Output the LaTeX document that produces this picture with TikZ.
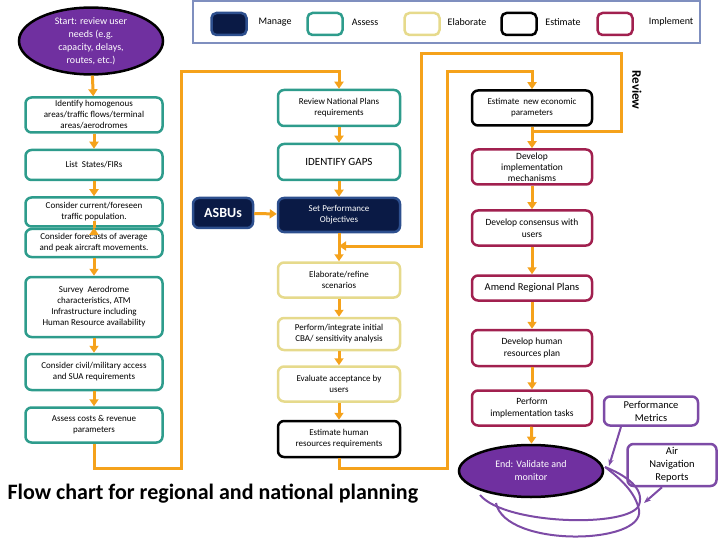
\documentclass[tikz,border=0pt]{standalone}
\usepackage{fontspec}
\setmainfont{Carlito}
\usetikzlibrary{arrows.meta,positioning,shapes.geometric}
\definecolor{flowor}{HTML}{F5A21B}
\definecolor{assess}{HTML}{2E9C8C}
\definecolor{elab}{HTML}{E6DA8C}
\definecolor{impl}{HTML}{A1204F}
\definecolor{manage}{HTML}{0A1A45}
\definecolor{manageb}{HTML}{2D4F8E}
\definecolor{endpur}{HTML}{7030A0}
\definecolor{linepur}{HTML}{7D4BA6}
\definecolor{legendb}{HTML}{7F8FBF}
\tikzset{
  box/.style={rectangle,rounded corners=6pt,line width=2.5pt,fill=white,
    align=center,inner sep=1pt,font=\fontsize{9}{11}\selectfont},
  lbox/.style={box,draw=assess,minimum width=137pt},
  mbox/.style={box,minimum width=122pt},
  rbox/.style={box,draw=impl,minimum width=120pt},
  swatch/.style={rectangle,rounded corners=5pt,line width=2.5pt,minimum width=35pt,minimum height=22pt},
  leg/.style={font=\fontsize{10}{12}\selectfont},
  flow/.style={draw=flowor,line width=3pt,-{Triangle[width=9pt,length=7pt]}},
  pline/.style={draw=linepur,line width=2pt},
  term/.style={ellipse,draw=black,line width=2.5pt,fill=endpur,text=white,align=center,font=\fontsize{10}{13}\selectfont}
}
\begin{document}
\begin{tikzpicture}[x=1pt,y=-1pt]
\useasboundingbox (0,0) rectangle (720,540);
% legend
\draw[legendb,line width=2pt] (193,1) rectangle (700,43);
\node[swatch,draw=manageb,fill=manage] (sw1) at (229,24) {};
\node[leg] at (275,22) {Manage};
\node[swatch,draw=assess] (sw2) at (325,24) {};
\node[leg] at (365,22) {Assess};
\node[swatch,draw=elab] (sw3) at (422,24) {};
\node[leg] at (467,22) {Elaborate};
\node[swatch,draw=black] (sw4) at (519,24) {};
\node[leg] at (563,22) {Estimate};
\node[swatch,draw=impl] (sw5) at (615,24) {};
\node[leg] at (671,22) {Implement};
% start
\node[term,minimum width=144pt,minimum height=60pt,inner sep=0pt] (start) at (91,41)
  {Start: review user\\needs (e.g.\\capacity, delays,\\routes, etc.)};
% left column
\node[lbox,minimum height=35pt] (b1) at (94,115) {Identify homogenous\\areas/traffic flows/terminal\\areas/aerodromes};
\node[lbox,minimum height=30pt] (b2) at (94,165) {List \ States/FIRs};
\node[lbox,minimum height=29pt] (b3) at (94,212) {Consider current/foreseen\\traffic population.};
\node[lbox,minimum height=28pt] (b4) at (94,243) {Consider forecasts of average\\and peak aircraft movements.};
\node[lbox,minimum height=60pt] (b5) at (94,307) {Survey \ Aerodrome\\characteristics, ATM\\Infrastructure including\\Human Resource availability};
\node[lbox,minimum height=36pt] (b6) at (94,372) {Consider civil/military access\\and SUA requirements};
\node[lbox,minimum height=35pt] (b7) at (94,425) {Assess costs \& revenue\\parameters};
% middle column
\node[mbox,draw=assess,minimum height=36pt] (m1) at (339,108) {Review National Plans\\requirements};
\node[mbox,draw=assess,minimum height=36pt,font=\fontsize{11}{13}\selectfont] (m2) at (339,162) {IDENTIFY GAPS};
\node[mbox,draw=manageb,fill=manage,text=white,minimum height=34pt] (m3) at (339,215) {Set Performance\\Objectives};
\node[box,draw=manageb,fill=manage,text=white,minimum width=60pt,minimum height=30pt,font=\fontsize{14}{16}\bfseries] (asbu) at (223,213) {ASBUs};
\node[mbox,draw=elab,minimum height=35pt] (m4) at (339,280) {Elaborate/refine\\scenarios};
\node[mbox,draw=elab,minimum height=32pt] (m5) at (339,334) {Perform/integrate initial\\CBA/ sensitivity analysis};
\node[mbox,draw=elab,minimum height=35pt] (m6) at (339,384) {Evaluate acceptance by\\users};
\node[mbox,draw=black,minimum height=36pt] (m7) at (339,439) {Estimate human\\resources requirements};
% right column
\node[rbox,draw=black,minimum height=35pt] (r1) at (532,108) {Estimate \ new economic\\parameters};
\node[rbox,minimum height=35pt,font=\fontsize{9.5}{11}\selectfont] (r2) at (532,167) {Develop\\implementation\\mechanisms};
\node[rbox,minimum height=35pt,font=\fontsize{9.5}{12}\selectfont] (r3) at (532,228) {Develop consensus with\\users};
\node[rbox,minimum height=25pt,font=\fontsize{10.5}{12}\selectfont] (r4) at (532,288) {Amend Regional Plans};
\node[rbox,minimum height=36pt,font=\fontsize{9.5}{12}\selectfont] (r5) at (532,348) {Develop human\\resources plan};
\node[rbox,minimum height=35pt,font=\fontsize{9.5}{12}\selectfont] (r6) at (532,408) {Perform\\implementation tasks};
\node[term,minimum width=144pt,minimum height=52pt,inner sep=0pt] (end) at (531,471) {End: Validate and\\monitor};
% side boxes
\node[box,draw=linepur,minimum width=94pt,minimum height=29pt,font=\fontsize{10.5}{13}\selectfont] (pm) at (651,411) {Performance\\Metrics};
\node[box,draw=linepur,minimum width=89pt,minimum height=42pt,font=\fontsize{10.5}{13}\selectfont] (anr) at (672,465) {Air\\Navigation\\Reports};
\node[font=\fontsize{13}{15}\bfseries,rotate=-90] (rev) at (637,90) {Review};
\node[font=\fontsize{22}{26}\bfseries,anchor=west] (title) at (4,494) {Flow chart for regional and national planning};
% connectors
\coordinate (l1) at (181,468);
\coordinate (l2) at (181,72);
\coordinate (c1) at (447,468);
\coordinate (c2) at (447,72);
\coordinate (rv1) at (621,132);
\coordinate (rv3) at (421,54);
\coordinate (rv4) at (421,246);
\draw[flow] (start) -- (b1);
\foreach \a/\b in {b1/b2,b2/b3,b3/b4,b4/b5,b5/b6,b6/b7,m1/m2,m2/m3,m3/m4,m4/m5,m5/m6,m6/m7,r1/r2,r2/r3,r3/r4,r4/r5,r5/r6}
  \draw[flow] (\a) -- (\b);
\draw[flow] (r6) -- (end);
\draw[flow] (asbu) -- (m3);
\draw[flow] (b7.south) |- (l1) -- (l2) -| (m1.north);
\draw[flow] (m7.south) |- (c1) -- (c2) -| (r1.north);
\draw[flow] (r1.south |- rv1) -- (rv1) |- (rv3) |- (m3.south |- rv4);
% feedback
\coordinate (p1) at (609,466);
\coordinate (p2) at (644,503);
\coordinate (e1) at (480,495);
\coordinate (e2) at (496,503);
\coordinate (e3) at (605,467);
\draw[pline,-{Stealth[length=7pt]}] (pm.south -| 621,0) -- (p1);
\draw[pline,-{Stealth[length=7pt]}] (anr.south -| 662,0) -- (p2);
\draw[pline] (e1) .. controls (505,525) and (630,528) .. (639,505) .. controls (645,488) and (625,475) .. (e3);
\draw[pline] (e2) .. controls (505,548) and (645,545) .. (639,510) .. controls (636,495) and (625,482) .. (e3);
\end{tikzpicture}
\end{document}
